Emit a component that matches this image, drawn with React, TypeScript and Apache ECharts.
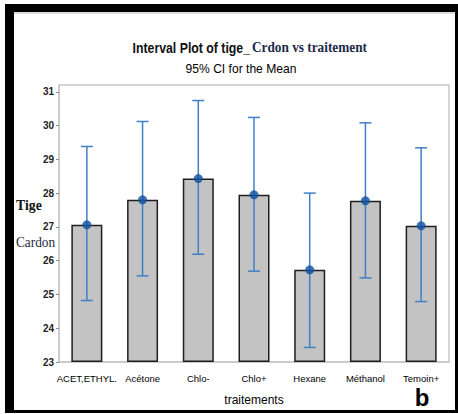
import React, { useEffect, useRef } from "react";
import * as echarts from "echarts";

// Treatments and the interval plot values (mean with 95% CI bounds)
const categories = ["ACET,ETHYL.", "Acétone", "Chlo-", "Chlo+", "Hexane", "Méthanol", "Temoin+"];
const means = [27.06, 27.8, 28.43, 27.95, 25.73, 27.77, 27.03];
const ciLow = [24.82, 25.55, 26.19, 25.69, 23.43, 25.49, 24.79];
const ciHigh = [29.38, 30.12, 30.74, 30.24, 28.0, 30.08, 29.34];
const yTicks = [23, 24, 25, 26, 27, 28, 29, 30, 31];

const SANS = '"Liberation Sans Narrow", "Liberation Sans", Arial, sans-serif';
const SERIF = '"Liberation Serif", "DejaVu Serif", serif';

export default function App() {
  const ref = useRef<HTMLDivElement>(null);

  useEffect(() => {
    if (!ref.current) return;
    const chart = echarts.init(ref.current, undefined, { renderer: "svg" });

    const intervals = categories.map((_, i) => [i, ciLow[i], ciHigh[i]]);

    chart.setOption({
      animation: false,
      backgroundColor: "#ffffff",
      grid: {
        left: 59,
        right: 9,
        top: 85,
        bottom: 52,
        show: true,
        borderColor: "#c8c8c8",
        borderWidth: 1.5,
        backgroundColor: "#ffffff",
      },
      xAxis: {
        type: "category",
        data: categories,
        name: "traitements",
        nameLocation: "middle",
        nameGap: 32,
        nameTextStyle: { fontFamily: SANS, fontSize: 12, color: "#000" },
        axisLine: { lineStyle: { color: "#c8c8c8", width: 1.5 } },
        axisTick: { alignWithLabel: true, length: 3, lineStyle: { color: "#9a9a9a" } },
        axisLabel: { fontFamily: SANS, fontSize: 9.5, color: "#000", margin: 11, interval: 0 },
      },
      yAxis: {
        type: "value",
        min: 23,
        max: 31.2,
        interval: 1,
        startValue: 23,
        splitLine: { show: false },
        axisLine: { show: true, lineStyle: { color: "#c8c8c8", width: 1.5 } },
        axisTick: { show: true, length: 3, customValues: yTicks, lineStyle: { color: "#8a8a8a" } },
        axisLabel: {
          customValues: yTicks,
          fontFamily: SANS,
          fontSize: 10,
          fontWeight: "bold",
          color: "#222",
          margin: 5,
        },
      },
      series: [
        {
          type: "bar",
          data: means,
          barWidth: 31,
          clip: true,
          itemStyle: { color: "#c3c3c3", borderColor: "#1e1e1e", borderWidth: 1.5 },
          z: 2,
        },
        {
          type: "custom",
          data: intervals,
          encode: { x: 0, y: [1, 2] },
          z: 3,
          renderItem: (params: any, api: any) => {
            const idx = api.value(0);
            const top = api.coord([idx, api.value(2)]);
            const bottom = api.coord([idx, api.value(1)]);
            const cap = 6;
            const style = { stroke: "#3f7fc6", lineWidth: 1.5 };
            return {
              type: "group",
              children: [
                { type: "line", shape: { x1: top[0], y1: top[1], x2: bottom[0], y2: bottom[1] }, style },
                { type: "line", shape: { x1: top[0] - cap, y1: top[1], x2: top[0] + cap, y2: top[1] }, style },
                { type: "line", shape: { x1: bottom[0] - cap, y1: bottom[1], x2: bottom[0] + cap, y2: bottom[1] }, style },
              ],
            };
          },
        },
        {
          type: "scatter",
          data: means,
          symbol: "circle",
          symbolSize: 9,
          itemStyle: { color: "#0f50a0" },
          z: 4,
        },
      ],
      graphic: [
        // frame around the figure
        { type: "rect", shape: { x: 5, y: 4, width: 453, height: 8 }, style: { fill: "#000" } },
        { type: "rect", shape: { x: 14, y: 12, width: 441, height: 2 }, style: { fill: "#dcdcdc" } },
        { type: "rect", shape: { x: 5, y: 4, width: 9, height: 409 }, style: { fill: "#000" } },
        { type: "rect", shape: { x: 455, y: 4, width: 3, height: 409 }, style: { fill: "#000" } },
        { type: "rect", shape: { x: 5, y: 410, width: 453, height: 3 }, style: { fill: "#000" } },
        // title
        {
          type: "text",
          x: 250,
          y: 48,
          scaleX: 0.82,
          style: {
            text: "Interval Plot of tige_",
            font: `bold 15px ${SANS}`,
            fill: "#111",
            align: "right",
            verticalAlign: "middle",
          },
        },
        {
          type: "text",
          x: 252,
          y: 47,
          scaleX: 0.885,
          style: {
            text: "Crdon vs traitement",
            font: `bold 15px ${SERIF}`,
            fill: "#1c2a48",
            align: "left",
            verticalAlign: "middle",
          },
        },
        {
          type: "text",
          x: 241,
          y: 69,
          scaleX: 0.93,
          style: {
            text: "95% CI for the Mean",
            font: `13px ${SANS}`,
            fill: "#000",
            align: "center",
            verticalAlign: "middle",
          },
        },
        // y axis title
        {
          type: "text",
          x: 16,
          y: 205,
          scaleX: 0.92,
          style: { text: "Tige", font: `bold 15px ${SERIF}`, fill: "#111", align: "left", verticalAlign: "middle" },
        },
        {
          type: "text",
          x: 16,
          y: 242,
          scaleX: 0.95,
          style: { text: "Cardon", font: `14px ${SERIF}`, fill: "#252a40", align: "left", verticalAlign: "middle" },
        },
        // panel letter
        {
          type: "text",
          x: 422,
          y: 397,
          style: { text: "b", font: `bold 24px "Liberation Sans", Arial, sans-serif`, fill: "#000", align: "center", verticalAlign: "middle" },
        },
      ],
    });

    return () => chart.dispose();
  }, []);

  return <div ref={ref} style={{ position: "fixed", left: 0, top: 0, width: 458, height: 414 }} />;
}
